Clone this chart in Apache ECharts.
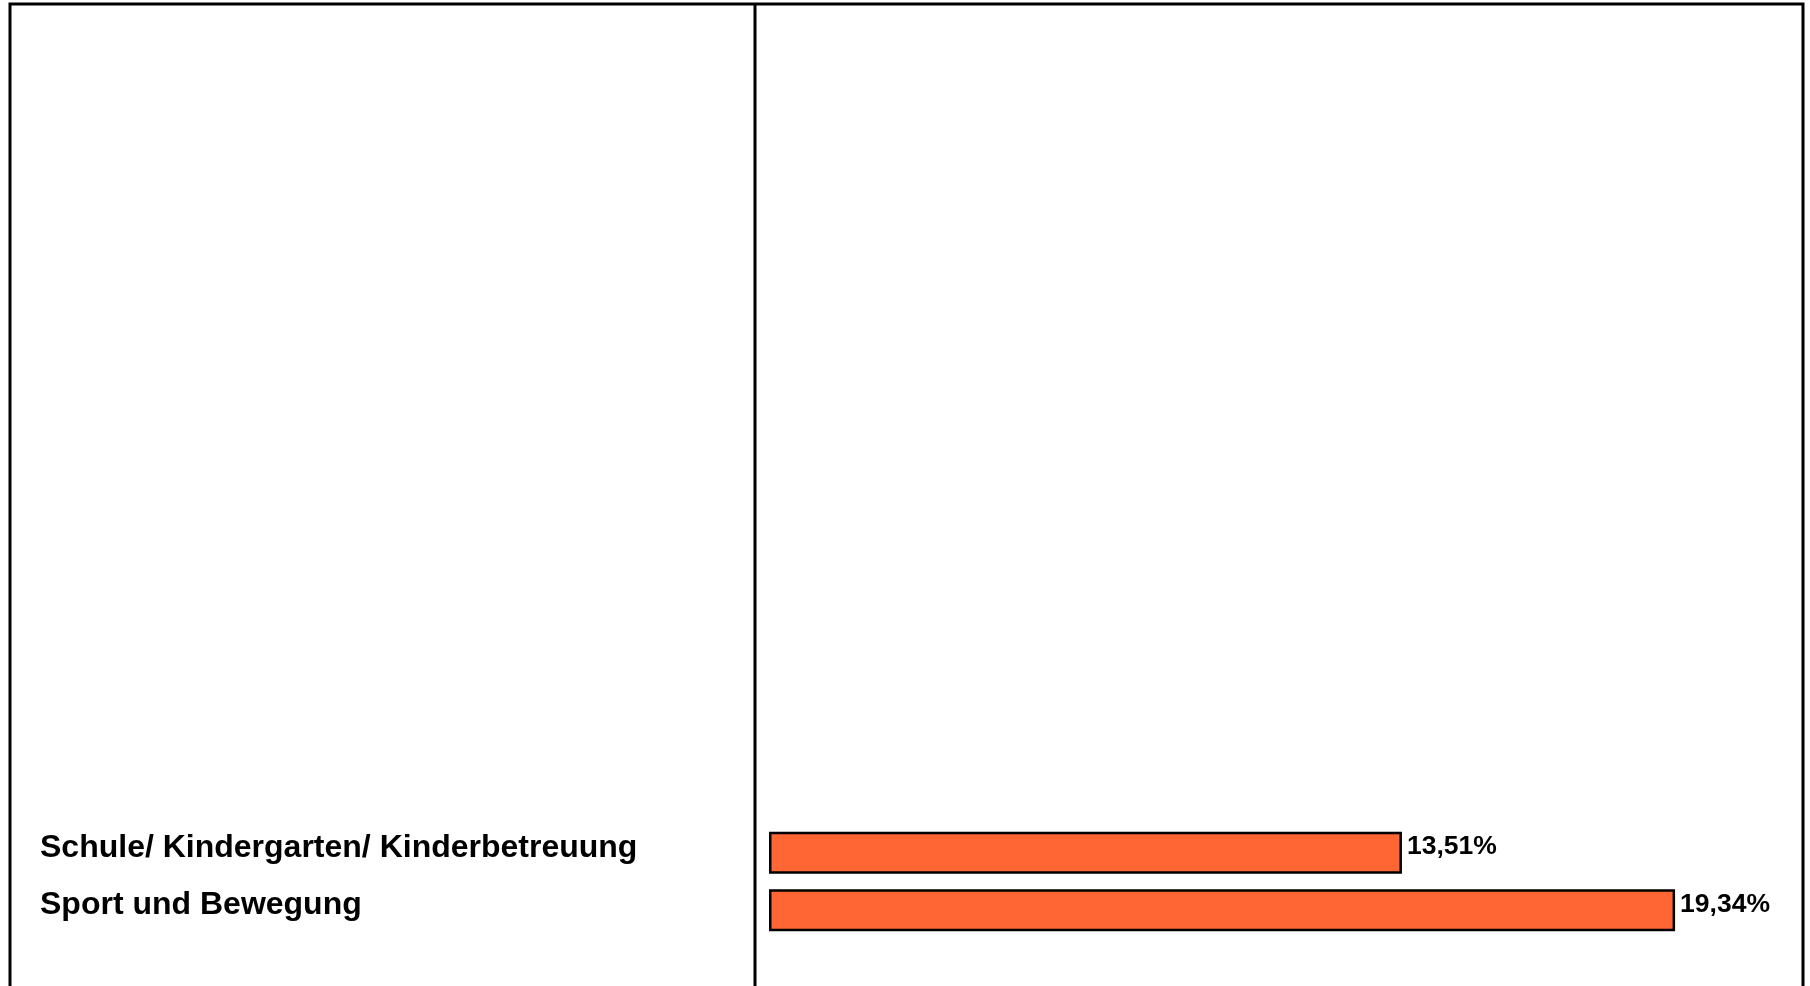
<!DOCTYPE html>
<html>
<head>
<meta charset="utf-8">
<script src="https://cdn.jsdelivr.net/npm/echarts@6/dist/echarts.min.js"></script>
<style>
html,body{margin:0;padding:0;background:#fff;}
#chart{width:1810px;height:986px;}
</style>
</head>
<body>
<div id="chart"></div>
<script>
// Kategorien und Werte (Anteil in %)
var categories = ['Schule/ Kindergarten/ Kinderbetreuung', 'Sport und Bewegung'];
var values = [13.51, 19.34];

var chart = echarts.init(document.getElementById('chart'));

var option = {
    backgroundColor: '#fff',
    animation: false,
    grid: {
        left: 769,
        right: 104,
        top: 824,
        bottom: 47
    },
    xAxis: {
        type: 'value',
        min: 0,
        max: 20,
        show: false
    },
    yAxis: {
        type: 'category',
        inverse: true,
        data: categories,
        axisLine: {show: false},
        axisTick: {show: false},
        axisLabel: {
            align: 'left',
            verticalAlign: 'bottom',
            lineHeight: 10,
            margin: 729,
            fontFamily: 'Liberation Sans, Arial, sans-serif',
            fontWeight: 'bold',
            fontSize: 32,
            color: '#000'
        }
    },
    // Rahmen und Trennlinie
    graphic: [
        {
            type: 'polyline',
            shape: {points: [[10, 986], [10, 4], [1803, 4], [1803, 986]]},
            style: {stroke: '#000', lineWidth: 3, fill: null}
        },
        {
            type: 'line',
            shape: {x1: 755, y1: 4, x2: 755, y2: 986},
            style: {stroke: '#000', lineWidth: 3}
        }
    ],
    series: [
        {
            type: 'bar',
            data: values,
            barWidth: 42,
            itemStyle: {
                color: '#FF6633',
                borderColor: '#000',
                borderWidth: 2.5
            },
            label: {
                show: true,
                position: 'right',
                distance: 5,
                offset: [0, -6],
                fontFamily: 'Liberation Sans, Arial, sans-serif',
                fontWeight: 'bold',
                fontSize: 26.5,
                color: '#000',
                formatter: function (p) {
                    return p.value.toFixed(2).replace('.', ',') + '%';
                }
            }
        }
    ]
};
chart.setOption(option);
</script>
</body>
</html>
